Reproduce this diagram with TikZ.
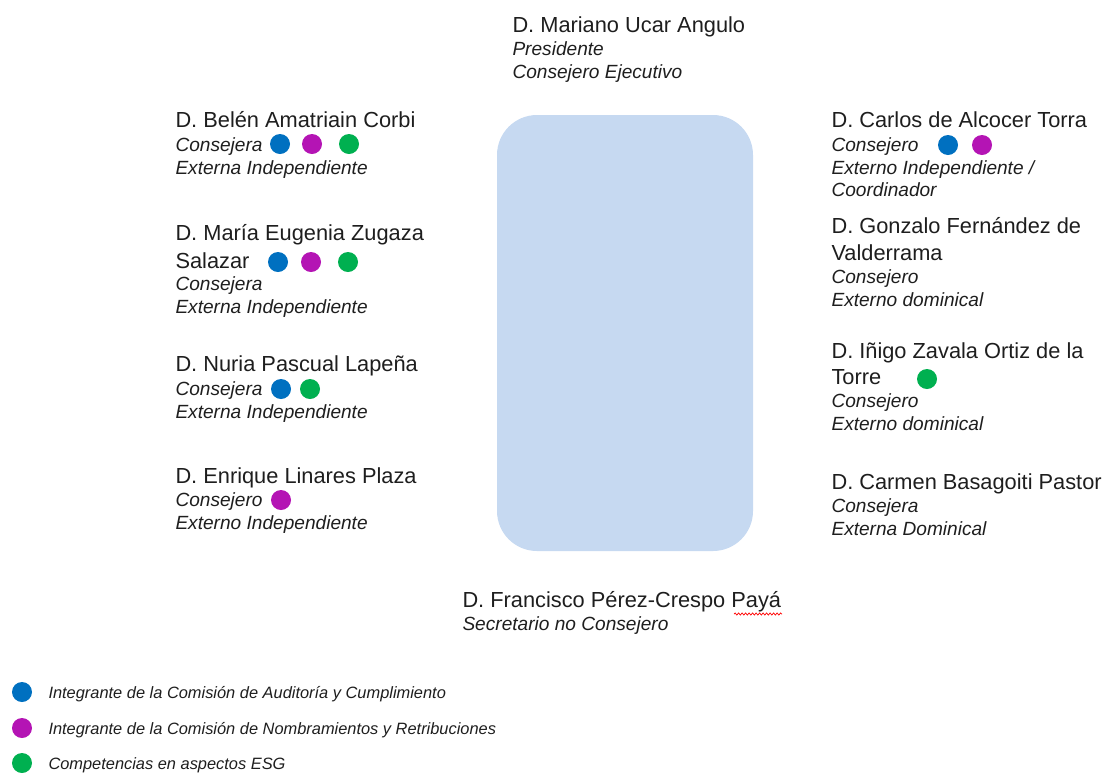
\documentclass[tikz,border=0pt]{standalone}
\usepackage{fontspec}
\setmainfont{Liberation Sans}
\usetikzlibrary{decorations.pathmorphing}
\definecolor{auditblue}{HTML}{0070C0}
\definecolor{nombmagenta}{HTML}{B414B4}
\definecolor{esggreen}{HTML}{00B050}
\definecolor{tablefill}{HTML}{C6D9F1}
\definecolor{inkgray}{HTML}{1E1E1E}
\tikzset{
every picture/.style={
line width=1pt
},
member/.style={anchor=base west, inner sep=0pt, text=inkgray, font=\fontsize{21.8}{24}\selectfont},
role/.style={anchor=base west, inner sep=0pt, text=inkgray, font=\fontsize{19.1}{22}\selectfont\itshape},
legendtext/.style={anchor=base west, inner sep=0pt, text=inkgray, font=\fontsize{16.4}{20}\selectfont\itshape},
dot/.style={circle, inner sep=0pt, minimum size=20pt},
audit/.style={dot, fill=auditblue},
nomb/.style={dot, fill=nombmagenta},
esg/.style={dot, fill=esggreen}
}

\begin{document}
\begin{tikzpicture}[x=1pt,y=-1pt]
  \useasboundingbox (0,0) rectangle (1107,772);

  \node (mesa) [fill=tablefill, rounded corners=40pt, minimum width=256pt, minimum height=436pt] at (625,333) {};

  % presidente
  \node (mariano) [member] at (512,32) {D. Mariano Ucar Angulo};
  \node (mariano1) [role] at (512,55) {Presidente};
  \node (mariano2) [role] at (512,78) {Consejero Ejecutivo};

  % left side
  \node (belen) [member] at (175,127) {D. Belén Amatriain Corbi};
  \node (belen1) [role] at (175,151) {Consejera};
  \node (belen2) [role] at (175,174) {Externa Independiente};
  \node (belen-a) [audit] at (280,144) {};
  \node (belen-n) [nomb] at (312,144) {};
  \node (belen-e) [esg] at (349,144) {};

  \node (maria) [member] at (175,240) {D. María Eugenia Zugaza};
  \node (maria0) [member] at (175,268) {Salazar};
  \node (maria1) [role] at (175,290) {Consejera};
  \node (maria2) [role] at (175,313) {Externa Independiente};
  \node (maria-a) [audit] at (278,262) {};
  \node (maria-n) [nomb] at (311,262) {};
  \node (maria-e) [esg] at (348,262) {};

  \node (nuria) [member] at (175,371) {D. Nuria Pascual Lapeña};
  \node (nuria1) [role] at (175,395) {Consejera};
  \node (nuria2) [role] at (175,418) {Externa Independiente};
  \node (nuria-a) [audit] at (281,389) {};
  \node (nuria-e) [esg] at (310,389) {};

  \node (enrique) [member] at (175,483) {D. Enrique Linares Plaza};
  \node (enrique1) [role] at (175,506) {Consejero};
  \node (enrique2) [role] at (175,529) {Externo Independiente};
  \node (enrique-n) [nomb] at (281,500) {};

  % right side
  \node (carlos) [member] at (831,127) {D. Carlos de Alcocer Torra};
  \node (carlos1) [role] at (831,151) {Consejero};
  \node (carlos2) [role] at (831,174) {Externo Independiente /};
  \node (carlos3) [role] at (831,196) {Coordinador};
  \node (carlos-a) [audit] at (948,145) {};
  \node (carlos-n) [nomb] at (982,145) {};

  \node (gonzalo) [member] at (831,233) {D. Gonzalo Fernández de};
  \node (gonzalo0) [member] at (831,260) {Valderrama};
  \node (gonzalo1) [role] at (831,283) {Consejero};
  \node (gonzalo2) [role] at (831,306) {Externo dominical};

  \node (inigo) [member] at (831,358) {D. Iñigo Zavala Ortiz de la};
  \node (inigo0) [member] at (831,384) {Torre};
  \node (inigo1) [role] at (831,407) {Consejero};
  \node (inigo2) [role] at (831,430) {Externo dominical};
  \node (inigo-e) [esg] at (927,379) {};

  \node (carmen) [member] at (831,489) {D. Carmen Basagoiti Pastor};
  \node (carmen1) [role] at (831,512) {Consejera};
  \node (carmen2) [role] at (831,535) {Externa Dominical};

  % secretario
  \node (francisco) [member] at (462,607) {D. Francisco Pérez-Crespo Payá};
  \node (francisco1) [role] at (462,630) {Secretario no Consejero};
  \coordinate (payaL) at (734,614);
  \coordinate (payaR) at (782,614);
  \draw [red, line width=0.7pt, decorate, decoration={snake, amplitude=1.1pt, segment length=3.5pt}] (payaL) -- (payaR);

  % legend
  \node (leg-a) [audit] at (22,692) {};
  \node (leg-n) [nomb] at (22,728) {};
  \node (leg-e) [esg] at (22,763) {};
  \node (leg-a1) [legendtext] at (48,698) {Integrante de la Comisión de Auditoría y Cumplimiento};
  \node (leg-n1) [legendtext] at (48,734) {Integrante de la Comisión de Nombramientos y Retribuciones};
  \node (leg-e1) [legendtext] at (48,769) {Competencias en aspectos ESG};

\end{tikzpicture}
\end{document}
